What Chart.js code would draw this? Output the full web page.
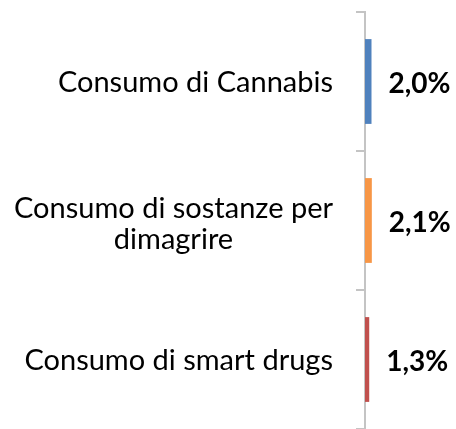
<!DOCTYPE html>
<html>
<head>
<meta charset="utf-8">
<script src="https://cdn.jsdelivr.net/npm/chart.js@4.4.1/dist/chart.umd.min.js"></script>
<style>
  html, body { margin: 0; padding: 0; background: #ffffff; }
  #wrap { width: 456px; height: 429px; }
</style>
</head>
<body>
<div id="wrap"><canvas id="c" width="456" height="429"></canvas></div>
<script>
// Categories (each entry is a list of display lines)
const categories = [
  ["Consumo di Cannabis"],
  ["Consumo di sostanze per", "dimagrire"],
  ["Consumo di smart drugs"]
];
// Percent values
const values = [2.0, 2.1, 1.3];
// Bar colours per category
const barColors = ["#4F81BD", "#F79646", "#C0504D"];

const FONT = "Lato, 'Open Sans', sans-serif";
const AXIS_GREY = "#C4C4C4";

// Category labels: each block right-aligned next to the axis, lines centred inside the block
const categoryLabels = {
  id: "categoryLabels",
  afterDraw(chart) {
    const ctx = chart.ctx;
    const y = chart.scales.y;
    const rightEdge = chart.chartArea.left - 32;
    const lineH = 31;
    ctx.save();
    ctx.font = "29px " + FONT;
    ctx.fillStyle = "#000000";
    ctx.textAlign = "center";
    ctx.textBaseline = "alphabetic";
    categories.forEach((lines, i) => {
      const cy = y.getPixelForValue(i);
      const blockW = Math.max(...lines.map(l => ctx.measureText(l).width));
      const cx = rightEdge - blockW / 2;
      const n = lines.length;
      const first = cy + 10 - (n - 1) * lineH / 2 + (n > 1 ? 3 : 0);
      lines.forEach((l, k) => ctx.fillText(l, cx, first + k * lineH));
    });
    ctx.restore();
  }
};

// Value labels at the end of each bar, e.g. "2,0%"
const valueLabels = {
  id: "valueLabels",
  afterDatasetsDraw(chart) {
    const ctx = chart.ctx;
    const meta = chart.getDatasetMeta(0);
    ctx.save();
    ctx.font = "bold 28px " + FONT;
    ctx.fillStyle = "#000000";
    ctx.textAlign = "left";
    ctx.textBaseline = "alphabetic";
    meta.data.forEach((bar, i) => {
      const txt = values[i].toFixed(1).replace(".", ",") + "%";
      ctx.fillText(txt, bar.x + 17, bar.y + 11.5);
    });
    ctx.restore();
  }
};

new Chart(document.getElementById("c"), {
  type: "bar",
  data: {
    labels: categories,
    datasets: [{
      data: values,
      backgroundColor: barColors,
      borderWidth: 0,
      categoryPercentage: 1,
      barPercentage: 0.61
    }]
  },
  options: {
    indexAxis: "y",
    responsive: false,
    animation: false,
    devicePixelRatio: 1,
    layout: { padding: { left: 356, top: 12, right: 0, bottom: 0 } },
    plugins: { legend: { display: false }, tooltip: { enabled: false } },
    scales: {
      x: { display: false, min: 0, max: 28 },
      y: {
        offset: true,
        grid: {
          offset: true,
          drawOnChartArea: false,
          drawTicks: true,
          tickLength: 9,
          color: AXIS_GREY,
          lineWidth: 2
        },
        border: { display: true, color: AXIS_GREY, width: 2 },
        ticks: { display: false }
      }
    }
  },
  plugins: [categoryLabels, valueLabels]
});
</script>
</body>
</html>
